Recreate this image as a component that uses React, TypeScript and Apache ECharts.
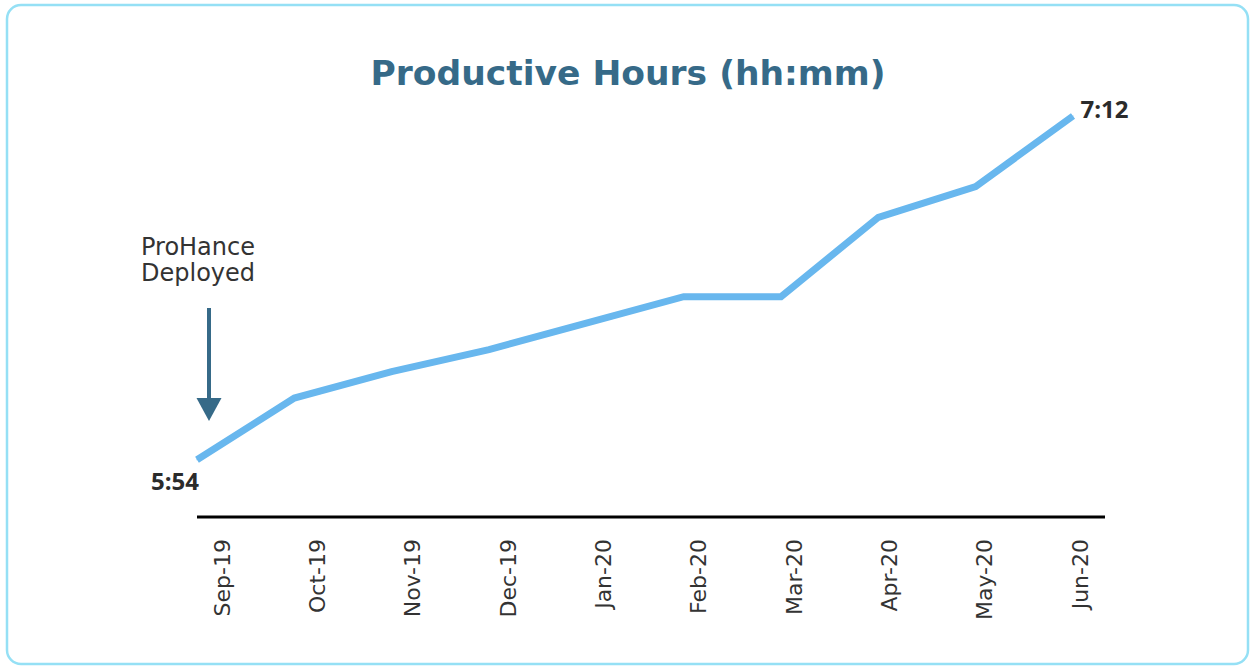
import React, { useEffect, useRef } from "react";
import * as echarts from "echarts";

const months = ["Sep-19", "Oct-19", "Nov-19", "Dec-19", "Jan-20", "Feb-20", "Mar-20", "Apr-20", "May-20", "Jun-20"];
// productive hours in minutes (hh:mm)
const productiveMinutes = [354, 368, 374, 379, 385, 391, 391, 409, 416, 432];
const titleText = "Productive Hours (hh:mm)";
const annotationLines = ["ProHance", "Deployed"];

const fmt = (m: number) => `${Math.floor(m / 60)}:${String(Math.round(m % 60)).padStart(2, "0")}`;

export default function App() {
  const ref = useRef<HTMLDivElement>(null);
  useEffect(() => {
    if (!ref.current) return;
    const chart = echarts.init(ref.current, null, { renderer: "svg" });
    const last = productiveMinutes.length - 1;
    chart.setOption({
      animation: false,
      backgroundColor: "#ffffff",
      grid: [
        { left: 197, right: 1250 - 1073, top: 116, bottom: 666 - 517 },
        { left: 222, right: 1250 - 1080, top: 116, bottom: 666 - 517 },
      ],
      xAxis: [
        {
          type: "category",
          gridIndex: 0,
          data: months,
          boundaryGap: false,
          axisLine: { show: false },
          axisTick: { show: false },
          axisLabel: { show: false },
        },
        {
          type: "category",
          gridIndex: 1,
          data: months,
          boundaryGap: false,
          axisLine: { show: false },
          axisTick: { show: false },
          axisLabel: {
            rotate: 90,
            margin: 22,
            interval: 0,
            color: "#333333",
            fontSize: 22,
            fontWeight: "normal",
            fontFamily: "DejaVu Sans",
          },
        },
      ],
      yAxis: [
        { type: "value", gridIndex: 0, min: 341, max: 432, show: false },
        { type: "value", gridIndex: 1, min: 341, max: 432, show: false },
      ],
      series: [
        {
          type: "line",
          xAxisIndex: 0,
          yAxisIndex: 0,
          data: productiveMinutes.map((v, i) => ({
            value: v,
            label:
              i === 0
                ? { show: true, position: "bottom", offset: [-22, 3] }
                : i === last
                ? { show: true, position: "right", offset: [2, -8] }
                : { show: false },
          })),
          symbol: "circle",
          symbolSize: 1,
          showSymbol: true,
          itemStyle: { color: "#68b7ee" },
          lineStyle: { color: "#68b7ee", width: 7, cap: "butt", join: "miter" },
          label: {
            formatter: (p: any) => fmt(p.value),
            color: "#2b2b2b",
            fontSize: 24,
            fontWeight: "bold",
            fontFamily: "Open Sans",
          },
          silent: true,
        },
      ],
      graphic: [
        {
          type: "rect",
          shape: { x: 7, y: 5, width: 1241, height: 659, r: 14 },
          style: { fill: "none", stroke: "#95e0f5", lineWidth: 2.5 },
          silent: true,
          z: -1,
        },
        {
          type: "text",
          x: 628,
          y: 73,
          style: {
            text: titleText,
            fill: "#366a88",
            font: "bold 34.5px 'DejaVu Sans'",
            textAlign: "center",
            textVerticalAlign: "middle",
          },
        },
        {
          type: "text",
          x: 141,
          y: 247,
          style: {
            text: annotationLines[0],
            fill: "#333333",
            font: "24px 'DejaVu Sans'",
            textAlign: "left",
            textVerticalAlign: "middle",
          },
        },
        {
          type: "text",
          x: 141,
          y: 273,
          style: {
            text: annotationLines[1],
            fill: "#333333",
            font: "24px 'DejaVu Sans'",
            textAlign: "left",
            textVerticalAlign: "middle",
          },
        },
        {
          type: "line",
          shape: { x1: 209, y1: 308, x2: 209, y2: 400 },
          style: { stroke: "#366a88", lineWidth: 4 },
        },
        {
          type: "polygon",
          shape: { points: [[196.5, 398], [221.5, 398], [209, 421]] },
          style: { fill: "#366a88" },
        },
        {
          type: "line",
          shape: { x1: 197, y1: 517, x2: 1105, y2: 517 },
          style: { stroke: "#000000", lineWidth: 3 },
        },
      ],
    });
    return () => chart.dispose();
  }, []);
  return (
    <div
      ref={ref}
      style={{ position: "fixed", left: 0, top: 0, width: 1250, height: 666 }}
    />
  );
}
